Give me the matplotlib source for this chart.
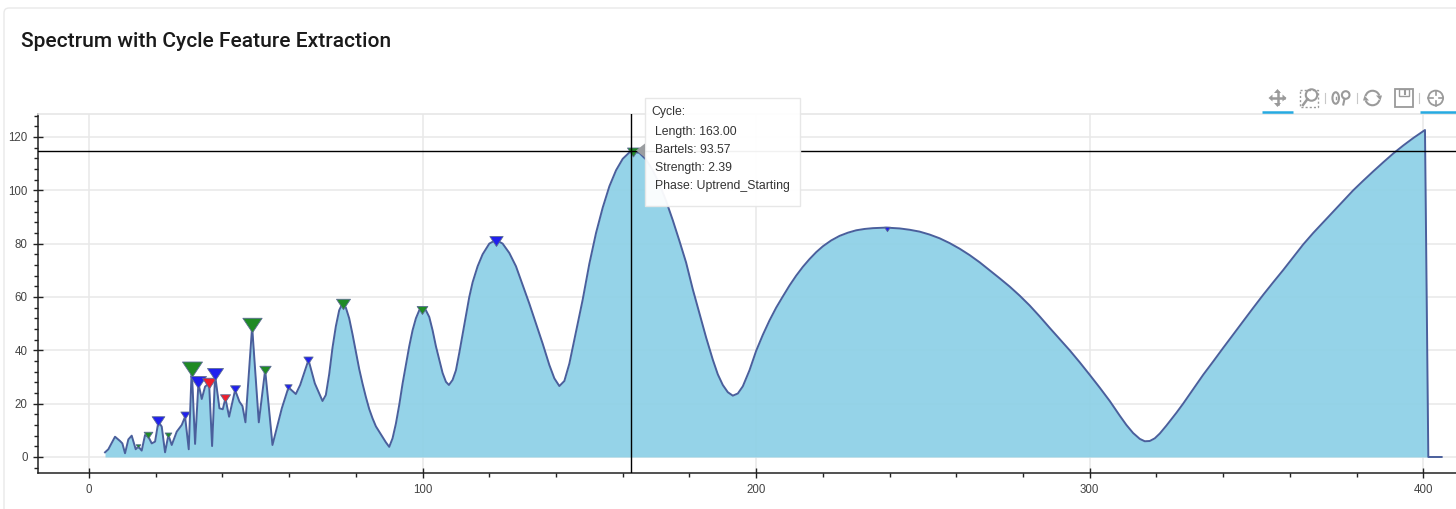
import matplotlib as mpl
mpl.use('Agg')
import matplotlib.pyplot as plt
from matplotlib.patches import FancyBboxPatch, Rectangle, Circle, Ellipse, Polygon, Arc
from matplotlib.path import Path
from matplotlib.ticker import MultipleLocator

# spectrum: cycle length, amplitude
cycle_len = [4.8, 5.8, 7.8, 9.3, 10, 10.8, 11.8, 12.8, 14, 14.8, 15.8, 16.8, 17.8, 18.8, 19.8, 20.8, 21.8, 22.8,
             23.8, 24.8, 26.3, 27.8, 28.8, 29.9, 30.8, 31.8, 32.8, 33.8, 34.8, 36, 36.9, 37.8, 39.1, 40.1, 40.9,
             42, 43.8, 45.1, 46, 46.9, 48.9, 50.9, 52.8, 53.8, 55, 57.8, 59.8, 62, 63.3, 65.8, 67.7, 70,
             71, 72, 73, 74, 75, 76, 77, 78, 79, 80, 81, 82, 83, 84, 85, 86, 87, 88, 89,
             90, 91, 92, 93, 94, 95, 96, 97, 98, 99, 100, 101, 102, 103, 104, 105, 106, 107, 107.9,
             109, 110, 111, 112, 113, 114, 115, 116.5, 118, 120, 122, 124, 126, 128, 130, 132, 134, 136, 138, 139.5,
             141, 142.5, 144, 146, 148, 150, 152, 154, 156, 158, 160, 162, 163,
             165, 167, 169, 171, 173, 175, 177, 179, 181, 183, 185, 187, 188.5, 190, 191.5, 193, 194.5, 196, 198,
             200, 202, 204, 206, 208, 210, 212, 214, 216, 218, 220, 222.5, 225, 227.5, 230, 232.5, 235, 239, 243,
             246, 249, 252, 255, 258, 261, 264, 267, 270, 273, 276, 279, 282, 285, 288, 291, 294, 297, 300,
             303, 306, 309, 311, 313, 315, 316.5, 318, 319.5, 321, 323, 326, 328, 331, 334, 337, 340,
             343, 346, 349, 352, 355, 358, 361, 364, 367, 370, 373, 376, 379, 382, 385, 388, 391, 394, 397, 400.5, 401.5, 405.5]
amplitude = [1.75, 2.9, 7.6, 6.0, 5.1, 1.4, 6.6, 8.0, 2.9, 3.9, 2.4, 8.25, 7.6, 5.1, 5.75, 13.25, 11.4, 1.75,
             8.25, 4.5, 9.5, 12, 15.1, 2.9, 33.2, 4.9, 27.6, 21.75, 26.4, 27.6, 4.1, 30.7, 18.25, 17.9, 22,
             15.1, 25.1, 20.75, 19.1, 13, 48.9, 13, 32.6, 20.1, 4.5, 18.25, 26.1, 23.6, 27, 36.4, 27.6, 21,
             23.25, 31, 41, 49, 55, 57.6, 56, 52, 46, 39.5, 33, 27.5, 22.5, 18, 14.5, 11.5, 9.5, 7.5, 5.5,
             3.8, 7, 12.5, 19.5, 27.5, 34.5, 41.5, 47.5, 52, 55, 56, 55, 52.5, 47.5, 41.5, 36.5, 31.5, 28.2, 27,
             28.9, 32.5, 39, 46, 53, 60, 65.5, 71.5, 76, 80, 81.4, 80, 76.5, 71.5, 64.5, 57.5, 50, 42.5, 34.5, 29.5,
             26.6, 28.5, 35, 47, 59, 72.5, 84, 93.5, 101.5, 107.5, 111.8, 114.2, 114.5,
             114, 111.5, 107.5, 102.3, 96, 88.8, 81, 72.9, 62.9, 53.8, 44.8, 36.5, 31, 27, 24.3, 23, 23.8, 26.5, 32.5,
             39.8, 45.8, 51.2, 56, 60.2, 64.3, 68, 71.3, 74.2, 76.8, 79, 81.2, 82.9, 84.1, 85, 85.5, 85.8, 86, 85.7,
             85.2, 84.5, 83.4, 82, 80.2, 78.1, 75.7, 73, 70, 67, 63.9, 60.5, 56.8, 52.7, 48.4, 44.2, 40, 35.5, 30.8,
             26, 21, 15.5, 12, 9, 6.8, 5.9, 6, 7, 8.8, 11.8, 16.6, 20, 25.4, 30.8, 35.8, 40.9,
             45.9, 50.9, 55.9, 60.8, 65.5, 70.1, 74.9, 79.7, 84, 88, 92, 96, 100, 103.6, 107.1, 110.5, 113.8, 116.8, 119.6, 122.6, 0, 0]

# detected cycles, size is the triangle width in pixels
peak_len = [14.8, 17.8, 20.8, 23.8, 28.8, 30.8, 32.8, 36, 37.8, 40.9, 43.8, 48.9, 52.8, 59.8, 65.8, 76, 99.9, 122, 163, 239.1]
peak_amp = [4.3, 8.2, 13.4, 8.1, 15.6, 32.9, 28.0, 27.6, 31, 22.3, 25.6, 49.6, 32.7, 26.4, 36.4, 57.5, 55.2, 80.9, 114.2, 85.5]
peak_size = [4.7, 8.7, 12.7, 6.7, 9.3, 20, 16, 14, 16, 10, 10, 19.3, 11.3, 7.3, 9.3, 14, 10.7, 13.3, 12, 6]
peak_col = ['g', 'g', 'b', 'g', 'b', 'g', 'b', 'r', 'b', 'r', 'b', 'g', 'g', 'b', 'b', 'g', 'g', 'b', 'g', 'b']

title = 'Spectrum with Cycle Feature Extraction'
tip_head = 'Cycle:'
tip_lines = ['Length: 163.00', 'Bartels: 93.57', 'Strength: 2.39', 'Phase: Uptrend_Starting']
cross_x = 162.5
cross_y = 114.9

colors = {'g': '#1f8a24', 'b': '#2020ee', 'r': '#f01f2b'}
tri = Path([(-1, 0.75), (1, 0.75), (0, -0.75), (-1, 0.75)], closed=True)
ICON = '#9a9a9a'


def draw_toolbar(ov):
  # pan
  cx, cy = 1277.5, 98
  ov.plot([cx - 6, cx + 6], [cy, cy], color=ICON, lw=1.8)
  ov.plot([cx, cx], [cy - 6, cy + 6], color=ICON, lw=1.8)
  for dx, dy in [(1, 0), (-1, 0), (0, 1), (0, -1)]:
    ov.add_patch(Polygon([(cx + 9 * dx, cy + 9 * dy),
                          (cx + 5 * dx + 3.5 * dy, cy + 5 * dy + 3.5 * dx),
                          (cx + 5 * dx - 3.5 * dy, cy + 5 * dy - 3.5 * dx)], color=ICON, lw=0))
  # box zoom
  ov.add_patch(Rectangle((1300, 89.5), 17.5, 17.5, fill=False, ec=ICON, lw=1, ls=(0, (1.5, 1.5))))
  ov.add_patch(Circle((1311.5, 95), 5.7, fill=False, ec=ICON, lw=1.5))
  ov.plot([1307.5, 1303], [99, 105], color=ICON, lw=1.8)
  # wheel zoom
  ov.add_patch(Ellipse((1335.7, 98), 6.5, 11.5, fill=False, ec=ICON, lw=1.5))
  ov.plot([1335.7, 1335.7], [96.5, 99], color=ICON, lw=1)
  ov.add_patch(Circle((1345.7, 95), 3.8, fill=False, ec=ICON, lw=1.5))
  ov.plot([1344.5, 1343.3], [99, 104.5], color=ICON, lw=1.5)
  # reset
  ov.add_patch(Arc((1372.5, 98), 14.5, 14.5, theta1=195, theta2=340, ec=ICON, lw=1.5))
  ov.add_patch(Arc((1372.5, 98), 14.5, 14.5, theta1=15, theta2=160, ec=ICON, lw=1.5))
  ov.add_patch(Polygon([(1376, 95.5), (1382, 95.5), (1380.5, 100.5)], color=ICON, lw=0))
  ov.add_patch(Polygon([(1363, 100.5), (1369, 100.5), (1364.5, 95.5)], color=ICON, lw=0))
  # save
  ov.add_patch(Rectangle((1394.7, 89.3), 18, 17.5, fill=False, ec=ICON, lw=1.3))
  ov.add_patch(Rectangle((1398.5, 89.3), 10, 7, fill=False, ec=ICON, lw=1))
  ov.plot([1404.5, 1404.5], [91, 94], color=ICON, lw=1.5)
  # crosshair
  ov.add_patch(Circle((1435.7, 98), 7.4, fill=False, ec=ICON, lw=1.3))
  ov.plot([1435.7, 1435.7], [90.5, 95], color=ICON, lw=1.2)
  ov.plot([1435.7, 1435.7], [101, 105.5], color=ICON, lw=1.2)
  ov.plot([1428.3, 1432.7], [98, 98], color=ICON, lw=1.2)
  ov.plot([1438.7, 1443], [98, 98], color=ICON, lw=1.2)
  # separators and active tool marks
  for sx in [1324.5, 1356.5, 1419]:
    ov.plot([sx, sx], [93, 103], color='#c8c8c8', lw=0.8)
  ov.plot([1262, 1293], [112, 112], color='#26aae1', lw=1.8, solid_capstyle='butt')
  ov.plot([1420, 1456], [112, 112], color='#26aae1', lw=1.8, solid_capstyle='butt')


def draw_tooltip(ov):
  ov.add_patch(Rectangle((644.5, 97.5), 155.5, 108, fc='white', ec='#e6e6e6', lw=1, alpha=0.95))
  ov.add_patch(Polygon([(636, 150.5), (645, 143.5), (645, 157.5)], color='#9a9da0', lw=0))
  ov.text(651, 112, tip_head, fontsize=8.8, family='Liberation Sans', color='#333333', va='center')
  for i, line in enumerate(tip_lines):
    ov.text(655, 132.5 + i * 17.7, line, fontsize=8.8, family='Liberation Sans', color='#333333', va='center')


if __name__ == "__main__":

  fig = plt.figure(figsize=(14.56, 5.09), dpi=100)
  ax = fig.add_axes([38 / 1456, 36 / 509, 1418 / 1456, 359 / 509])

  ax.fill_between(cycle_len[:-1], amplitude[:-1], 0, color='#8acfe6', alpha=0.9, lw=0, zorder=2)
  ax.plot(cycle_len, amplitude, color='#4a5f9c', lw=1.4, zorder=3)

  for x, y, s, c in zip(peak_len, peak_amp, peak_size, peak_col):
    ax.scatter([x], [y], s=(s * 0.72) ** 2, marker=tri, color=colors[c], edgecolors='#5c6c94',
               linewidths=0.6, zorder=4)

  ax.axvline(cross_x, color='black', lw=1, zorder=5)
  ax.axhline(cross_y, color='black', lw=1, zorder=5)

  ax.set_xlim(-15.29, 409.8)
  ax.set_ylim(-6, 128.6)
  ax.xaxis.set_major_locator(MultipleLocator(100))
  ax.xaxis.set_minor_locator(MultipleLocator(20))
  ax.yaxis.set_major_locator(MultipleLocator(20))
  ax.yaxis.set_minor_locator(MultipleLocator(4))
  ax.grid(which='major', color='#e8e8e8', lw=1.1, zorder=0)
  ax.set_axisbelow(True)

  ax.spines['top'].set_color('#e6e6e6')
  ax.spines['top'].set_linewidth(1.2)
  ax.spines['right'].set_visible(False)
  ax.spines['left'].set_color('#222222')
  ax.spines['bottom'].set_color('#222222')
  ax.spines['left'].set_linewidth(1.1)
  ax.spines['bottom'].set_linewidth(1.1)
  ax.tick_params(which='major', direction='inout', length=7, width=1, color='#222222',
                 labelsize=8.3, labelcolor='#444444')
  ax.tick_params(axis='x', which='major', pad=4.5)
  ax.tick_params(axis='y', which='major', pad=4)
  ax.tick_params(which='minor', direction='out', length=3, width=1, color='#222222')
  for lab in ax.get_xticklabels() + ax.get_yticklabels():
    lab.set_family('Liberation Sans')

  # everything outside the plot area goes on a pixel overlay
  ov = fig.add_axes([0, 0, 1, 1], facecolor='none')
  ov.set_xlim(0, 1456)
  ov.set_ylim(509, 0)
  ov.axis('off')
  ov.add_patch(FancyBboxPatch((4, 8), 1480, 540, boxstyle='round,pad=0,rounding_size=5', fill=False,
                              ec='#e9e9e9', lw=1, clip_on=True))
  ov.text(21, 41.5, title, fontsize=15.1, family='Roboto', weight='medium', color='#1a1a1a', va='center')
  draw_toolbar(ov)
  draw_tooltip(ov)

  plt.savefig('out.png', dpi=100)
